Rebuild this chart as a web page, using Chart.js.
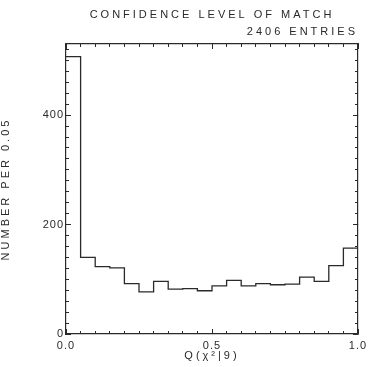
<!DOCTYPE html>
<html>
<head>
<meta charset="utf-8">
<script src="https://cdn.jsdelivr.net/npm/chart.js@4/dist/chart.umd.min.js"></script>
<style>
  html, body { margin: 0; padding: 0; background: #fff; }
  #wrap { width: 373px; height: 367px; }
</style>
</head>
<body>
<div id="wrap"><canvas id="c" width="373" height="367"></canvas></div>
<script>
// ---- data ----
const titleText = 'CONFIDENCE LEVEL OF MATCH';
const subtitleText = '2406 ENTRIES';
const xTitle = 'Q(\u03C7\u00B2|9)';
const yTitle = 'NUMBER PER 0.05';
const binStarts = [0.00, 0.05, 0.10, 0.15, 0.20, 0.25, 0.30, 0.35, 0.40, 0.45,
                   0.50, 0.55, 0.60, 0.65, 0.70, 0.75, 0.80, 0.85, 0.90, 0.95];
const binEnd = 1.0;
const counts = [507, 140, 123, 121, 92, 77, 96, 82, 83, 79,
                88, 98, 88, 92, 90, 91, 104, 96, 125, 157];
const xMajorTicks = [0.0, 0.5, 1.0];
const yMajorTicks = [0, 200, 400];
const xRange = [0, 1];
const yRange = [0, 530];

// step outline points: each bin value holds from its start to the next edge
const points = binStarts.map((x, i) => ({ x: x, y: counts[i] }));
points.push({ x: binEnd, y: counts[counts.length - 1] });

const INK = '#2a2a2a';
const FONT = "'Liberation Sans', Arial, sans-serif";
const FS = 11;

const spacingPlugin = {
  id: 'spacing',
  beforeLayout(chart) { chart.ctx.letterSpacing = '3px'; },
  beforeDraw(chart) {
    const ctx = chart.ctx;
    ctx.save();
    ctx.fillStyle = '#fff';
    ctx.fillRect(0, 0, chart.width, chart.height);
    ctx.restore();
    ctx.letterSpacing = '3px';
  },
  afterDatasetsDraw(chart) { chart.ctx.letterSpacing = '1px'; },
  afterDraw(chart) { chart.ctx.letterSpacing = '0px'; }
};

function axisCommon(pos, weight, size, tickLen, stepSize, rangeMin, rangeMax, showLabels, showBorder) {
  return {
    type: 'linear',
    position: pos,
    weight: weight,
    min: rangeMin,
    max: rangeMax,
    display: true,
    grid: {
      display: true,
      drawOnChartArea: false,
      drawTicks: true,
      tickLength: -tickLen,
      tickColor: INK,
      tickWidth: 1
    },
    border: { display: showBorder, color: INK, width: 1.2 },
    ticks: {
      display: showLabels,
      stepSize: stepSize,
      autoSkip: false,
      includeBounds: false,
      maxRotation: 0,
      minRotation: 0
    },
    afterFit(scale) {
      if (scale.isHorizontal()) scale.height = size; else scale.width = size;
      scale.paddingLeft = 0; scale.paddingRight = 0;
      scale.paddingTop = 0; scale.paddingBottom = 0;
    }
  };
}

const xMain = axisCommon('bottom', 1, 33, 5, 0.5, xRange[0], xRange[1], true, true);
xMain.ticks = Object.assign(xMain.ticks, {
  z: 1, padding: 10, color: INK, font: { family: FS ? FONT : FONT, size: FS, lineHeight: 1.2 },
  callback: (v) => (xMajorTicks.some(t => Math.abs(t - v) < 1e-9) ? Number(v).toFixed(1) : '')
});
xMain.title = { display: true, text: xTitle, color: INK, font: { family: FONT, size: FS, lineHeight: 1.2 }, padding: { top: 0, bottom: 4 } };

const yMain = axisCommon('left', 1, 66, 5, 200, yRange[0], yRange[1], true, true);
yMain.ticks = Object.assign(yMain.ticks, {
  z: 1, padding: 7, color: INK, font: { family: FONT, size: FS },
  callback: (v) => (yMajorTicks.includes(v) ? String(v) : '')
});
yMain.title = { display: true, text: yTitle, color: INK, font: { family: FONT, size: FS, lineHeight: 1.0 }, padding: { top: 0, bottom: 0 } };

const chart = new Chart(document.getElementById('c'), {
  type: 'line',
  data: {
    datasets: [{
      data: points,
      stepped: 'before',
      borderColor: INK,
      borderWidth: 1.3,
      pointRadius: 0,
      fill: false,
      tension: 0,
      xAxisID: 'x',
      yAxisID: 'y'
    }]
  },
  options: {
    responsive: false,
    animation: false,
    devicePixelRatio: 1,
    layout: { padding: { left: 0, right: 15, top: 0, bottom: 0 } },
    plugins: {
      legend: { display: false },
      tooltip: { enabled: false },
      title: {
        display: true, text: titleText, color: INK, fullSize: false, align: 'center',
        font: { family: FONT, size: FS, weight: 'normal', lineHeight: 1.2 },
        padding: { top: 8, bottom: 3 }
      },
      subtitle: {
        display: true, text: subtitleText, color: INK, fullSize: false, align: 'end',
        font: { family: FONT, size: FS, weight: 'normal', lineHeight: 1.2 },
        padding: { top: 1.5, bottom: 5.1 }
      }
    },
    scales: {
      x: xMain,
      xMinor: axisCommon('bottom', 0, 0, 3, 0.05, xRange[0], xRange[1], false, false),
      xTop: axisCommon('top', 0, 0, 5, 0.5, xRange[0], xRange[1], false, true),
      xTopMinor: axisCommon('top', 0, 0, 3, 0.05, xRange[0], xRange[1], false, false),
      y: yMain,
      yMinor: axisCommon('left', 0, 0, 3, 20, yRange[0], yRange[1], false, false),
      yRight: axisCommon('right', 0, 0, 5, 200, yRange[0], yRange[1], false, true),
      yRightMinor: axisCommon('right', 0, 0, 3, 20, yRange[0], yRange[1], false, false)
    }
  },
  plugins: [spacingPlugin]
});
</script>
</body>
</html>
